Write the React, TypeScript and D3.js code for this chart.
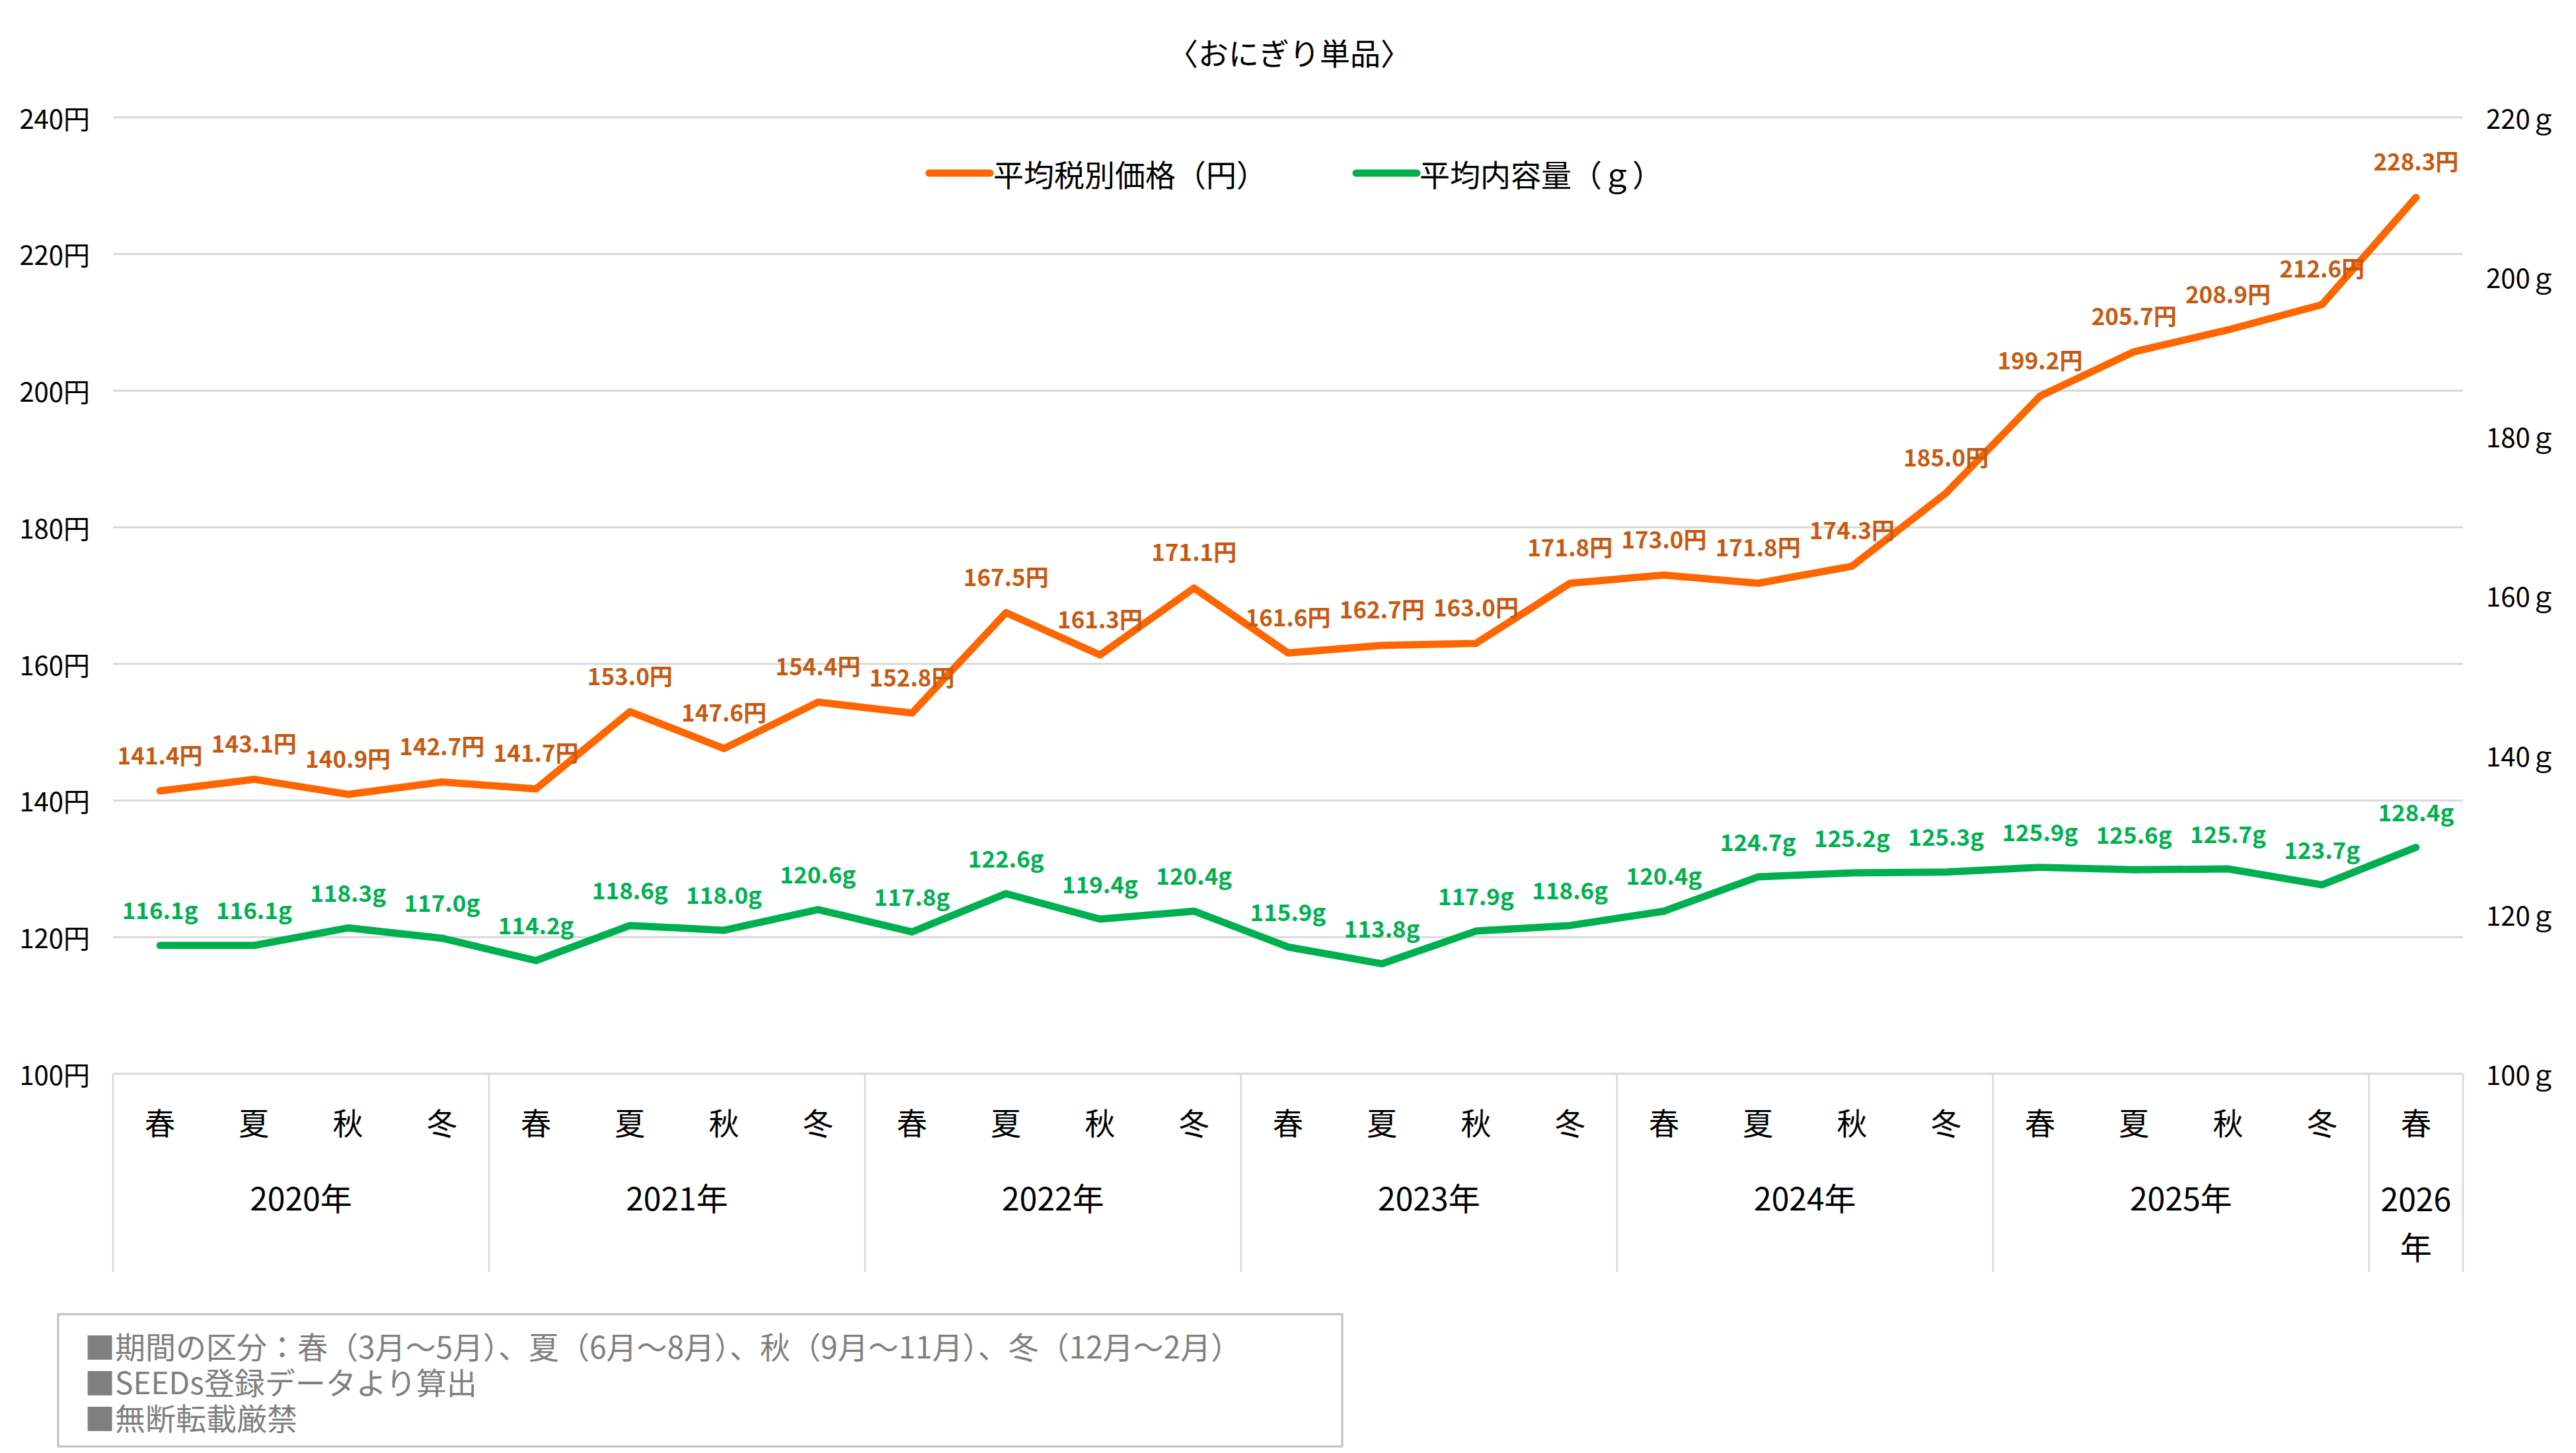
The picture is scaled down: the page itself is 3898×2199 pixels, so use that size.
import React from "react";
import * as d3 from "d3";

const seasons = ["春","夏","秋","冬","春","夏","秋","冬","春","夏","秋","冬","春","夏","秋","冬","春","夏","秋","冬","春","夏","秋","冬","春"];
const years = ["2020年","2021年","2022年","2023年","2024年","2025年","2026年"];
const yearCounts = [4,4,4,4,4,4,1];
const priceValues = [141.4,143.1,140.9,142.7,141.7,153.0,147.6,154.4,152.8,167.5,161.3,171.1,161.6,162.7,163.0,171.8,173.0,171.8,174.3,185.0,199.2,205.7,208.9,212.6,228.3];
const gramValues = [116.1,116.1,118.3,117.0,114.2,118.6,118.0,120.6,117.8,122.6,119.4,120.4,115.9,113.8,117.9,118.6,120.4,124.7,125.2,125.3,125.9,125.6,125.7,123.7,128.4];
const leftTicks = [100,120,140,160,180,200,220,240];
const rightTicks = [100,120,140,160,180,200,220];
const title = "〈おにぎり単品〉";
const legendNames = ["平均税別価格（円）","平均内容量（ｇ）"];
const notes = [
  "■期間の区分：春（3月～5月）、夏（6月～8月）、秋（9月～11月）、冬（12月～2月）",
  "■SEEDs登録データより算出",
  "■無断転載厳禁",
];

const W = 3898, H = 2199;
const FONT = "'Noto Sans CJK JP', 'Noto Sans', sans-serif";
const ORANGE = "#FF6600";
const ORANGE_TXT = "#C55A11";
const GREEN = "#00B050";
const GRID = "#D9D9D9";

export default function App() {
  const left = 171, right = 3727, top = 177.7, bottom = 1625;
  const idx = seasons.map((_, i) => i);
  const x = d3.scaleBand<number>().domain(idx).range([left, right]);
  const cx = (i: number) => (x(i) as number) + x.bandwidth() / 2;
  const yL = d3.scaleLinear().domain([100, 240]).range([bottom, top]);
  const yR = d3.scaleLinear().domain([100, 220]).range([bottom, top]);

  const priceLine = d3.line<number>().x((_, i) => cx(i)).y(d => yL(d))(priceValues) || "";
  const gramLine = d3.line<number>().x((_, i) => cx(i)).y(d => yR(d))(gramValues) || "";

  const bounds: number[] = [0];
  yearCounts.forEach(c => bounds.push(bounds[bounds.length - 1] + c));
  const boundX = (b: number) => (b < seasons.length ? (x(b) as number) : right);

  const divBottom = 1925;

  return (
    <svg width={W} height={H} style={{ position: "absolute", left: 0, top: 0, background: "#fff" }} fontFamily={FONT}>
      <rect x={0} y={0} width={W} height={H} fill="#fff" />
      <text x={1951} y={78} textAnchor="middle" dominantBaseline="central" fontSize={46} fill="#000">{title}</text>

      {leftTicks.map(t => (
        <g key={"g" + t}>
          <line x1={left} x2={right} y1={yL(t)} y2={yL(t)} stroke={GRID} strokeWidth={3} />
          <text x={136} y={yL(t)} textAnchor="end" dominantBaseline="central" fontSize={40} fill="#000">{t}円</text>
        </g>
      ))}
      {rightTicks.map(t => (
        <text key={"r" + t} x={3762} y={yR(t)} textAnchor="start" dominantBaseline="central" fontSize={40} fill="#000">{t}ｇ</text>
      ))}

      {bounds.map((b, i) => (
        <line key={"d" + i} x1={boundX(b)} x2={boundX(b)} y1={bottom} y2={divBottom} stroke={GRID} strokeWidth={3} />
      ))}
      {seasons.map((s, i) => (
        <text key={"s" + i} x={cx(i)} y={1697} textAnchor="middle" dominantBaseline="central" fontSize={46} fill="#000">{s}</text>
      ))}
      {years.map((yv, i) => {
        const mid = (boundX(bounds[i]) + boundX(bounds[i + 1])) / 2;
        if (yearCounts[i] === 1) {
          return (
            <text key={"y" + i} x={mid} textAnchor="middle" fontSize={48} fill="#000">
              <tspan x={mid} y={1812} dominantBaseline="central">{yv.slice(0, 4)}</tspan>
              <tspan x={mid} y={1885} dominantBaseline="central">{yv.slice(4)}</tspan>
            </text>
          );
        }
        return <text key={"y" + i} x={mid} y={1811} textAnchor="middle" dominantBaseline="central" fontSize={48} fill="#000">{yv}</text>;
      })}

      <path d={priceLine} fill="none" stroke={ORANGE} strokeWidth={11} strokeLinejoin="round" strokeLinecap="round" />
      <path d={gramLine} fill="none" stroke={GREEN} strokeWidth={11} strokeLinejoin="round" strokeLinecap="round" />

      {priceValues.map((v, i) => (
        <text key={"pl" + i} x={cx(i)} y={yL(v) - 56} textAnchor="middle" dominantBaseline="central" fontSize={35} fontWeight="bold" fill={ORANGE_TXT}>{v.toFixed(1)}円</text>
      ))}
      {gramValues.map((v, i) => (
        <text key={"gl" + i} x={cx(i)} y={yR(v) - 55} textAnchor="middle" dominantBaseline="central" fontSize={35} fontWeight="bold" fill={GREEN}>{v.toFixed(1)}g</text>
      ))}

      <line x1={1406} x2={1498} y1={262} y2={262} stroke={ORANGE} strokeWidth={11} strokeLinecap="round" />
      <text x={1503} y={262} dominantBaseline="central" fontSize={46} fill="#000">{legendNames[0]}</text>
      <line x1={2052} x2={2144} y1={262} y2={262} stroke={GREEN} strokeWidth={11} strokeLinecap="round" />
      <text x={2148} y={262} dominantBaseline="central" fontSize={46} fill="#000">{legendNames[1]}</text>

      <rect x={88} y={1989} width={1943} height={200} fill="#fff" stroke="#BFBFBF" strokeWidth={3} />
      <text fontSize={46} fill="#7F7F7F">
        {notes.map((n, i) => (
          <tspan key={"n" + i} x={128} y={2036 + i * 54} dominantBaseline="central">{n}</tspan>
        ))}
      </text>
    </svg>
  );
}
